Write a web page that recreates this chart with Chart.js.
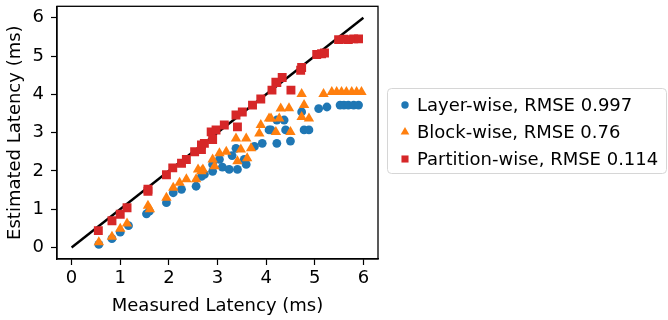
<!DOCTYPE html>
<html>
<head>
<meta charset="utf-8">
<script src="https://cdn.jsdelivr.net/npm/chart.js@4/dist/chart.umd.min.js"></script>
<style>
  html, body { margin: 0; padding: 0; background: #fff; }
  #wrap { width: 668px; height: 320px; }
</style>
</head>
<body>
<div id="wrap"><canvas id="myChart" width="668" height="320"></canvas></div>
<script>
// Measured vs estimated latency (ms)
const layerX = [0.56, 0.83, 1.0, 1.17, 1.54, 1.6, 1.95, 2.09, 2.26, 2.56, 2.67, 2.73, 2.9, 2.9, 3.04, 3.1, 3.24, 3.3, 3.38, 3.41, 3.55, 3.59, 3.76, 3.92, 4.06, 4.1, 4.22, 4.22, 4.37, 4.4, 4.5, 4.73, 4.78, 4.88, 5.08, 5.25, 5.52, 5.6, 5.69, 5.8, 5.9];
const layerY = [0.08, 0.23, 0.4, 0.57, 0.88, 0.95, 1.17, 1.43, 1.52, 1.6, 1.86, 1.91, 2.17, 1.99, 2.3, 2.1, 2.04, 2.4, 2.59, 2.04, 2.3, 2.17, 2.64, 2.72, 3.07, 3.07, 2.72, 3.33, 3.33, 3.07, 2.78, 3.54, 3.07, 3.07, 3.63, 3.67, 3.72, 3.72, 3.72, 3.72, 3.72];

const blockX = [0.56, 0.83, 1.0, 1.14, 1.57, 1.61, 1.95, 2.09, 2.22, 2.36, 2.56, 2.6, 2.67, 2.9, 2.7, 2.94, 3.04, 3.18, 3.38, 3.59, 3.69, 3.48, 3.86, 3.89, 4.1, 4.27, 3.41, 3.61, 4.06, 4.2, 4.5, 4.3, 4.47, 4.73, 4.78, 4.88, 4.73, 5.18, 5.35, 5.45, 5.55, 5.65, 5.76, 5.86, 5.96];
const blockY = [0.14, 0.28, 0.49, 0.63, 1.09, 1.0, 1.3, 1.56, 1.69, 1.78, 1.78, 2.04, 1.99, 2.3, 2.04, 2.12, 2.46, 2.5, 2.85, 2.85, 2.59, 2.56, 2.98, 3.2, 3.37, 3.37, 2.25, 2.33, 3.37, 3.02, 3.02, 3.63, 3.64, 3.41, 3.72, 3.37, 4.01, 4.01, 4.06, 4.06, 4.06, 4.06, 4.06, 4.06, 4.06];

const partX = [0.55, 0.83, 1.0, 1.14, 1.57, 1.57, 1.95, 2.08, 2.26, 2.36, 2.53, 2.67, 2.87, 2.67, 2.73, 2.9, 2.97, 3.14, 3.41, 3.38, 3.51, 3.72, 3.89, 4.12, 4.2, 4.22, 4.33, 4.51, 4.71, 4.73, 5.04, 5.14, 5.2, 5.49, 5.6, 5.69, 5.8, 5.9];
const partY = [0.44, 0.7, 0.87, 1.04, 1.47, 1.52, 1.9, 2.08, 2.2, 2.3, 2.5, 2.68, 3.02, 2.56, 2.72, 2.82, 3.07, 3.2, 3.15, 3.46, 3.54, 3.72, 3.88, 4.11, 4.32, 4.31, 4.44, 4.11, 4.63, 4.7, 5.04, 5.06, 5.08, 5.43, 5.44, 5.43, 5.45, 5.45];

// y = x reference line
const lineX = [0, 6];
const lineY = [0, 6];

const tickVals = [0, 1, 2, 3, 4, 5, 6];
const seriesLabels = ["Layer-wise, RMSE 0.997", "Block-wise, RMSE 0.76", "Partition-wise, RMSE 0.114"];
const seriesColors = ["#1f77b4", "#ff7f0e", "#d62728"];
const seriesStyles = ["circle", "triangle", "rect"];

const toPoints = (xs, ys) => xs.map((x, i) => ({ x, y: ys[i] }));

const FONT = "'DejaVu Sans', sans-serif";
const FS = 18;

// legend box + plot frame, matplotlib style
const framePlugin = {
  id: "frame",
  afterDraw(chart) {
    const { ctx, chartArea: a } = chart;
    ctx.save();
    ctx.strokeStyle = "#000";
    ctx.lineWidth = 1.3;
    ctx.strokeRect(a.left, a.top, a.right - a.left, a.bottom - a.top);

    // legend
    const bx = 387.5, by = 88.5, bw = 279, bh = 85;
    ctx.beginPath();
    ctx.roundRect(bx, by, bw, bh, 4);
    ctx.fillStyle = "rgba(255,255,255,0.8)";
    ctx.fill();
    ctx.strokeStyle = "#d6d6d6";
    ctx.lineWidth = 1;
    ctx.stroke();

    ctx.font = FS + "px " + FONT;
    ctx.textBaseline = "middle";
    ctx.textAlign = "left";
    seriesLabels.forEach((label, i) => {
      const y = 105 + i * 27;
      ctx.fillStyle = seriesColors[i];
      Chart.helpers.drawPoint(ctx, {
        pointStyle: seriesStyles[i],
        radius: seriesStyles[i] === "circle" ? 3.7 : 5,
        rotation: 0,
        borderWidth: 0
      }, 405, y);
      ctx.fillStyle = "#000";
      ctx.fillText(label, 417, y + 1);
    });
    ctx.restore();
  }
};

const ctx = document.getElementById("myChart");

new Chart(ctx, {
  type: "scatter",
  data: {
    datasets: [
      {
        label: "y = x",
        data: toPoints(lineX, lineY),
        showLine: true,
        borderColor: "#000",
        borderWidth: 2.4,
        pointRadius: 0,
        order: 4
      },
      {
        label: seriesLabels[0],
        data: toPoints(layerX, layerY),
        backgroundColor: seriesColors[0],
        borderWidth: 0,
        pointStyle: "circle",
        pointRadius: 4.4,
        order: 3
      },
      {
        label: seriesLabels[1],
        data: toPoints(blockX, blockY),
        backgroundColor: seriesColors[1],
        borderWidth: 0,
        pointStyle: "triangle",
        pointRadius: 6,
        order: 2
      },
      {
        label: seriesLabels[2],
        data: toPoints(partX, partY),
        backgroundColor: seriesColors[2],
        borderWidth: 0,
        pointStyle: "rect",
        pointRadius: 6.3,
        order: 1
      }
    ]
  },
  options: {
    responsive: false,
    animation: false,
    events: [],
    layout: { padding: { top: 4, right: 290, left: 0, bottom: 0 } },
    plugins: { legend: { display: false }, tooltip: { enabled: false } },
    scales: {
      x: {
        type: "linear",
        min: -0.3, max: 6.3,
        afterBuildTicks: (s) => { s.ticks = tickVals.map(v => ({ value: v })); },
        afterFit: (s) => { s.height = 61; s.paddingLeft = 0; s.paddingRight = 0; },
        grid: { drawOnChartArea: false, drawTicks: true, tickLength: 6, color: "#000", tickWidth: 1.2 },
        border: { display: true, color: "#000", width: 1.3 },
        ticks: { color: "#000", padding: 3, font: { family: FONT, size: FS }, maxRotation: 0 },
        title: { display: true, text: "Measured Latency (ms)", color: "#000", font: { family: FONT, size: FS }, padding: { top: 0, bottom: 3 } }
      },
      y: {
        type: "linear",
        min: -0.3, max: 6.3,
        afterBuildTicks: (s) => { s.ticks = tickVals.map(v => ({ value: v })); },
        afterFit: (s) => { s.width = 57; s.paddingTop = 0; s.paddingBottom = 0; },
        grid: { drawOnChartArea: false, drawTicks: true, tickLength: 6, color: "#000", tickWidth: 1.2 },
        border: { display: true, color: "#000", width: 1.3 },
        ticks: { color: "#000", padding: 7, font: { family: FONT, size: FS } },
        title: { display: true, text: "Estimated Latency (ms)", color: "#000", font: { family: FONT, size: FS }, padding: { top: 5, bottom: 0 } }
      }
    }
  },
  plugins: [framePlugin]
});
</script>
</body>
</html>
